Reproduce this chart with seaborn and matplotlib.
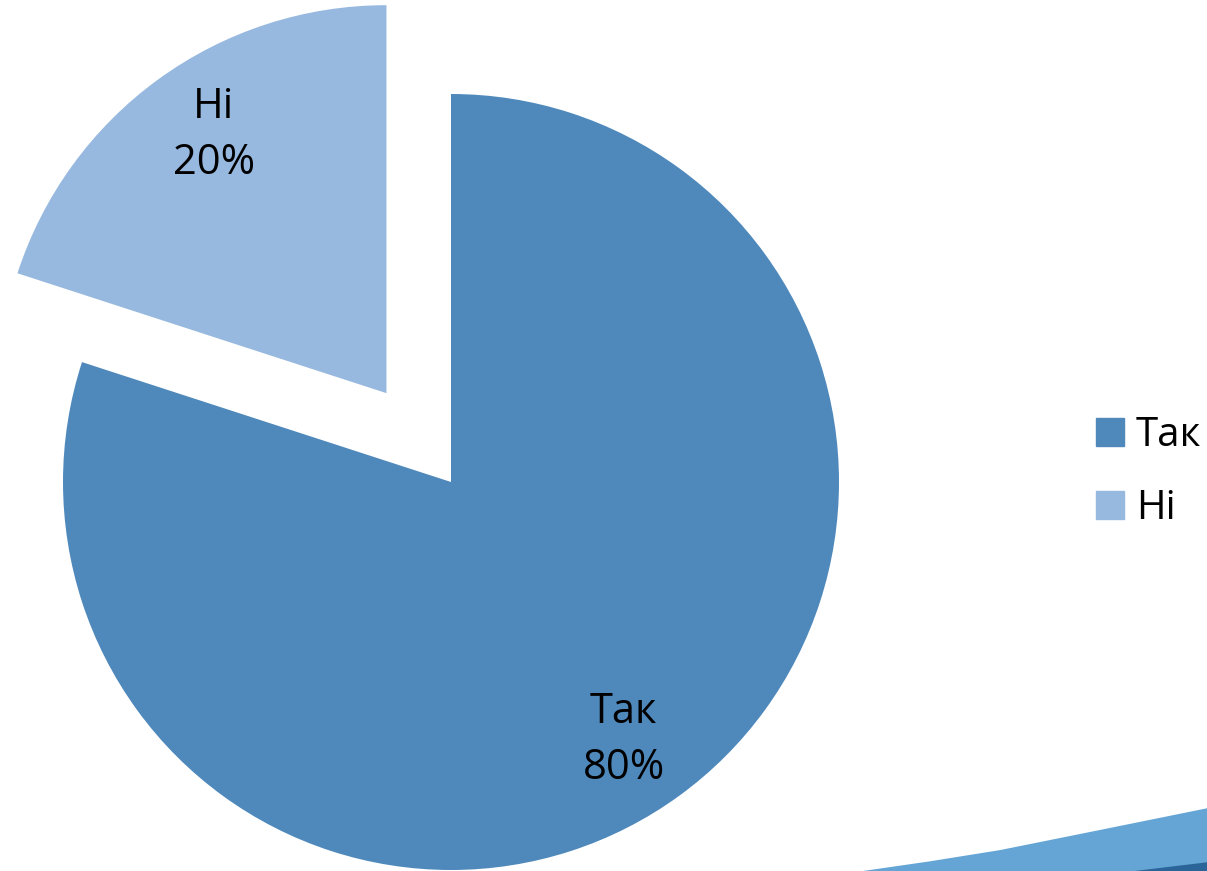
import matplotlib
matplotlib.use("Agg")
import matplotlib.pyplot as plt
from matplotlib.lines import Line2D
from matplotlib.patches import Polygon
import numpy as np
import seaborn as sns

categories = ["Так", "Ні"]
values = [80, 20]
colors = ["#4F89BC", "#98B9DF"]

sns.set_theme(style="white")
plt.rcParams["font.family"] = ["Open Sans", "DejaVu Sans"]

W, H = 1207, 871
fig = plt.figure(figsize=(W / 100, H / 100), dpi=100)
fig.patch.set_facecolor("white")

# decorative slide swoosh (bottom right)
sw = Polygon([(0.715, 0.0), (0.770, 0.011), (0.8285, 0.024), (0.911, 0.047), (1.0, 0.072), (1.0, 0.0)],
             closed=True, transform=fig.transFigure, facecolor="#64A5D6", edgecolor="none", zorder=0)
fig.patches.append(sw)
sw2 = Polygon([(0.94, 0.0), (1.0, 0.010), (1.0, 0.0)],
              closed=True, transform=fig.transFigure, facecolor="#2B6498", edgecolor="none", zorder=0)
fig.patches.append(sw2)

ax = fig.add_axes([0, 0, 1, 1])
ax.patch.set_alpha(0)

labels = [f"{c}\n{v}%" for c, v in zip(categories, values)]
wedges, texts = ax.pie(values, labels=labels, colors=colors, startangle=90, counterclock=False,
                       explode=[0, 0.283], labeldistance=0.8, radius=1.0,
                       textprops=dict(fontsize=30, color="black", ha="center", va="center", linespacing=1.45),
                       wedgeprops=dict(linewidth=0))

# nudge label placement slightly clockwise, as in the original
for w, t in zip(wedges, texts):
    mid = np.deg2rad((w.theta1 + w.theta2) / 2 - 2.2)
    c = w.center
    t.set_position((c[0] + 0.8 * np.cos(mid), c[1] + 0.8 * np.sin(mid)))

R = 388.0
cx, cy = 451.0, 871 - 482.0
ax.set_xlim(-cx / R, (W - cx) / R)
ax.set_ylim(-cy / R, (H - cy) / R)
ax.set_aspect("equal")
ax.axis("off")

handles = [Line2D([], [], marker="s", linestyle="none", markersize=19.5, color=c) for c in colors]
leg = fig.legend(handles, categories, loc="center left", bbox_to_anchor=(0.906, 0.458),
                 frameon=False, fontsize=29, handletextpad=0.25, labelspacing=0.8,
                 handlelength=0.8, borderpad=0, borderaxespad=0)
for t in leg.get_texts():
    t.set_color("black")

fig.savefig("out.png", dpi=100, facecolor="white")
